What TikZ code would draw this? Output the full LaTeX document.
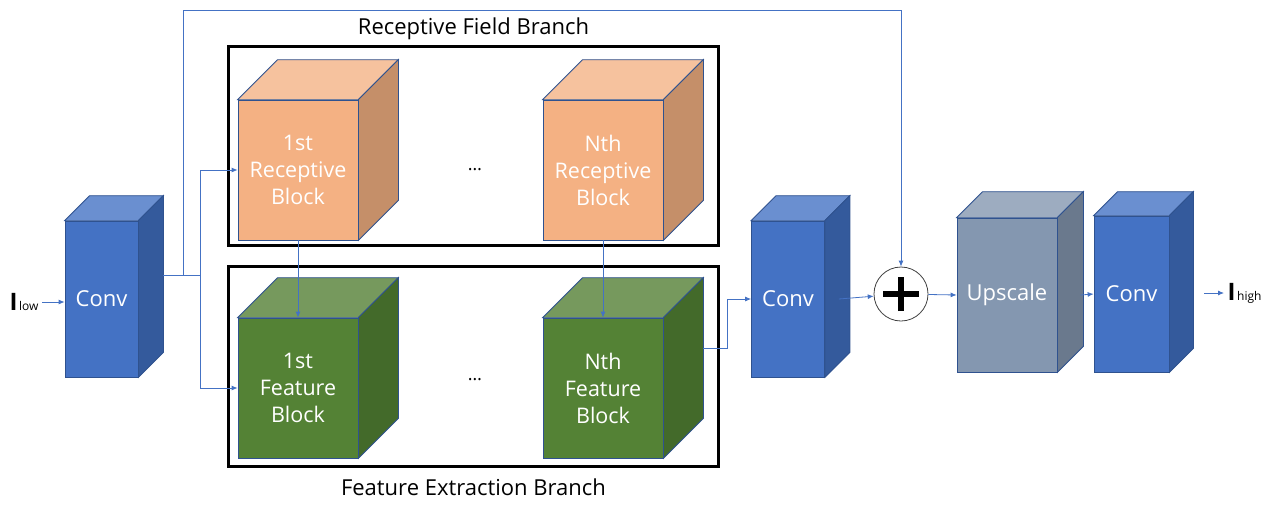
\documentclass[tikz,border=0pt]{standalone}
\usepackage{fontspec}
\setmainfont{Open Sans}
\usetikzlibrary{positioning,arrows.meta}

\definecolor{convfront}{HTML}{4472C4}
\definecolor{convtop}{HTML}{6A8FD0}
\definecolor{convside}{HTML}{345A9C}
\definecolor{recfront}{HTML}{F4B183}
\definecolor{rectop}{HTML}{F6C29E}
\definecolor{recside}{HTML}{C58F69}
\definecolor{featfront}{HTML}{548235}
\definecolor{feattop}{HTML}{76995D}
\definecolor{featside}{HTML}{436A2A}
\definecolor{upfront}{HTML}{8497B0}
\definecolor{uptop}{HTML}{9DACC0}
\definecolor{upside}{HTML}{6A798D}
\definecolor{cubeedge}{HTML}{2F528F}
\definecolor{arrowblue}{HTML}{4472C4}

% top and side faces of a block: name, depth, top colour, side colour
\newcommand{\cubefaces}[4]{%
  \filldraw[cubeline,fill=#3] (#1.north west) -- ([shift={(#2,-#2)}]#1.north west)
    -- ([shift={(#2,-#2)}]#1.north east) -- (#1.north east) -- cycle;
  \filldraw[cubeline,fill=#4] (#1.north east) -- ([shift={(#2,-#2)}]#1.north east)
    -- ([shift={(#2,-#2)}]#1.south east) -- (#1.south east) -- cycle;}

\begin{document}
\begin{tikzpicture}[x=1pt,y=-1pt,
  cubeline/.style={draw=cubeedge,line width=0.75pt},
  cube/.style={cubeline,inner sep=0pt,text=white,align=center,font=\fontsize{21.5}{27}\selectfont},
  conv/.style={cube,fill=convfront,minimum width=73pt,minimum height=156pt,font=\fontsize{22}{27}\selectfont},
  recblock/.style={cube,fill=recfront,minimum width=120pt,minimum height=140pt},
  featblock/.style={cube,fill=featfront,minimum width=120pt,minimum height=140pt},
  upblock/.style={cube,fill=upfront,minimum width=100pt,minimum height=154pt,font=\fontsize{22}{27}\selectfont},
  branch/.style={draw,line width=3pt,minimum width=490pt,inner sep=0pt},
  caption/.style={font=\fontsize{22}{26}\selectfont},
  arr/.style={draw=arrowblue,line width=0.8pt,-{Latex[length=6pt,width=5pt]}},
]
\useasboundingbox (0,0) rectangle (1279,504);

% branches
\node[branch,minimum height=199pt] (rfb) at (473.5,146) {};
\node[branch,minimum height=200pt] (feb) at (473.5,366.5) {};
\node[caption,above=2pt of rfb] (rlabel) {Receptive Field Branch};
\node[caption,below=7pt of feb] (flabel) {Feature Extraction Branch};

% blocks
\node[conv] (lconv) at (101.5,299) {Conv};
\cubefaces{lconv}{25}{convtop}{convside}
\node[recblock] (rb1) at (298,170) {1st\\Receptive\\Block};
\cubefaces{rb1}{40}{rectop}{recside}
\node[recblock] (rbN) at (603,170) {Nth\\Receptive\\Block};
\cubefaces{rbN}{40}{rectop}{recside}
\node[featblock] (fb1) at (298,388) {1st\\Feature\\Block};
\cubefaces{fb1}{40}{feattop}{featside}
\node[featblock] (fbN) at (603,388) {Nth\\Feature\\Block};
\cubefaces{fbN}{40}{feattop}{featside}
\node[font=\fontsize{18}{20}\selectfont] (rdots) at (475,170) {\dots};
\node[font=\fontsize{18}{20}\selectfont] (fdots) at (475,380) {\dots};
\node[conv] (mconv) at (788,299) {Conv};
\cubefaces{mconv}{25}{convtop}{convside}
\node[draw=black!75,line width=0.8pt,circle,minimum size=54pt,inner sep=0pt] (plus) at (901,294) {};
\draw[line width=6pt] ([xshift=-18pt]plus.center) -- ([xshift=18pt]plus.center)
  ([yshift=-17pt]plus.center) -- ([yshift=17pt]plus.center);
\node[upblock] (ups) at (1007,295) {Upscale};
\cubefaces{ups}{26}{uptop}{upside}
\node[conv,minimum width=75pt] (rconv) at (1131.5,294) {Conv};
\cubefaces{rconv}{24}{convtop}{convside}

% input / output
\node (ilow) at (24,302) {{\fontsize{24}{26}\selectfont\bfseries I}\,{\fontsize{12}{14}\selectfont low}};
\node[anchor=west] (ihigh) at (1224,293) {{\fontsize{24}{26}\selectfont\bfseries I}\,{\fontsize{12}{14}\selectfont high}};

% connectors
\coordinate (lout) at (163,275);
\coordinate (skip) at (183,275);
\coordinate (split) at (200,275);
\coordinate (corner) at (901,10);
\coordinate (fout) at (703,348);
\draw[arr] (ilow.east) -- (ilow.east -| lconv.west);
\draw[arrowblue,line width=0.8pt] (lout) -- (split);
\draw[arr] (split) |- (rb1.west);
\draw[arr] (split) |- (fb1.west);
\draw[arr] (skip) |- (corner) -- (plus);
\draw[arr] (rb1) -- (fb1.north);
\draw[arr] (rbN) -- (fbN.north);
\draw[arr] (fout) -| ([xshift=-24pt]mconv.west) -- (mconv.west);
\draw[arr] ([xshift=14pt]mconv.east) -- (plus);
\draw[arr] (plus) -- (ups.west);
\draw[arr] ([xshift=23pt]ups.east) -- (rconv.west);
\draw[arr] ([xshift=-20pt]ihigh.west) -- (ihigh.west);

\end{tikzpicture}
\end{document}
